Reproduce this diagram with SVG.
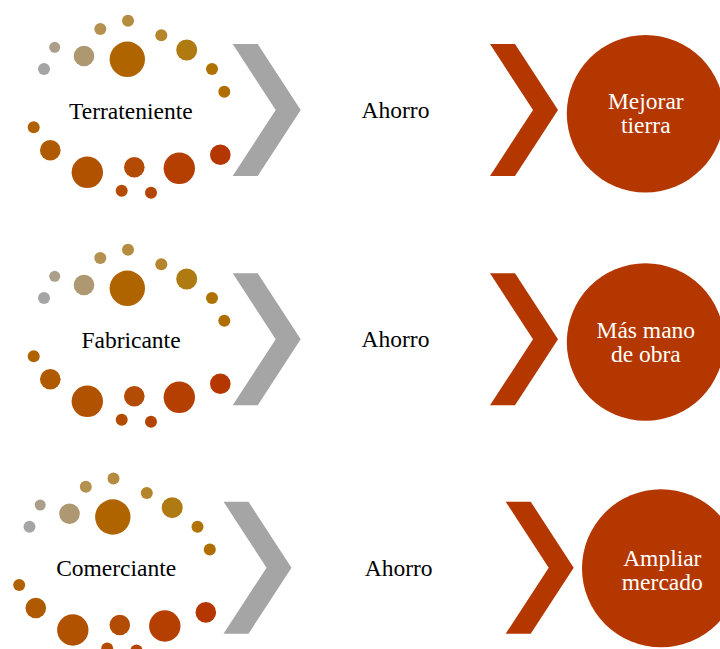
<svg xmlns="http://www.w3.org/2000/svg" xmlns:xlink="http://www.w3.org/1999/xlink" width="720" height="649" viewBox="0 0 720 649">
<style>
text{font-family:'Liberation Serif',serif;font-size:23.5px;text-anchor:middle}
.lbl{fill:#000}
.wt{fill:#fff}
.gch{fill:#a5a5a5}
.rch{fill:#b43700}
.res{fill:#b43700}
</style>
<defs>
<g id="dots">
<circle cx="44" cy="69" r="6" fill="#a5a5a5"/>
<circle cx="54.7" cy="47.3" r="5.5" fill="#ab9f8c"/>
<circle cx="84" cy="56" r="10.3" fill="#ae9871"/>
<circle cx="100.3" cy="29" r="6" fill="#b4914f"/>
<circle cx="128" cy="20.7" r="6" fill="#b58b40"/>
<circle cx="127.3" cy="59.3" r="17.7" fill="#b06400"/>
<circle cx="161.3" cy="35.3" r="6" fill="#b5852b"/>
<circle cx="186.7" cy="50" r="10.5" fill="#b07a12"/>
<circle cx="212" cy="69" r="6" fill="#b07200"/>
<circle cx="224.3" cy="91.7" r="6" fill="#b06d00"/>
<circle cx="33.7" cy="127.3" r="6" fill="#b06200"/>
<circle cx="50.3" cy="150.3" r="10.3" fill="#b05a00"/>
<circle cx="87.3" cy="172.3" r="15.7" fill="#b05200"/>
<circle cx="121.7" cy="190.7" r="6" fill="#b34c00"/>
<circle cx="134.3" cy="167.3" r="10.3" fill="#b44b04"/>
<circle cx="151" cy="192.7" r="6" fill="#b44500"/>
<circle cx="179.3" cy="168.3" r="15.7" fill="#b43f00"/>
<circle cx="220.3" cy="154.7" r="10.3" fill="#b43700"/>
</g>
<polygon id="chev" points="0,0 25,0 68,66 25,132 0,132 43,66"/>
</defs>

<g id="connectors">
<use xlink:href="#chev" class="gch" x="232.7" y="44"/>
<use xlink:href="#chev" class="rch" x="490" y="44"/>
<use xlink:href="#chev" class="gch" x="232.7" y="273.3"/>
<use xlink:href="#chev" class="rch" x="490" y="273.3"/>
<use xlink:href="#chev" class="gch" x="223.5" y="501.7"/>
<use xlink:href="#chev" class="rch" x="505.7" y="501.7"/>
</g>

<g id="terrateniente">
<use xlink:href="#dots"/>
<text class="lbl" x="130.8" y="119">Terrateniente</text>
</g>
<g id="ahorro1"><text class="lbl" x="395.5" y="118">Ahorro</text></g>
<g id="mejorar-tierra">
<circle class="res" cx="645.5" cy="113.7" r="78.7"/>
<text class="wt" x="645.8" y="109">Mejorar</text>
<text class="wt" x="645.8" y="132.5">tierra</text>
</g>

<g id="fabricante">
<use xlink:href="#dots" y="229"/>
<text class="lbl" x="131" y="348.3">Fabricante</text>
</g>
<g id="ahorro2"><text class="lbl" x="395.5" y="346.7">Ahorro</text></g>
<g id="mas-mano-de-obra">
<circle class="res" cx="645.5" cy="342" r="78.7"/>
<text class="wt" x="645.8" y="337.7">Más mano</text>
<text class="wt" x="645.8" y="361.5">de obra</text>
</g>

<g id="comerciante">
<use xlink:href="#dots" x="-14.5" y="457.7"/>
<text class="lbl" x="116.2" y="576">Comerciante</text>
</g>
<g id="ahorro3"><text class="lbl" x="398.7" y="576">Ahorro</text></g>
<g id="ampliar-mercado">
<circle class="res" cx="661" cy="568.3" r="79"/>
<text class="wt" x="662.3" y="566">Ampliar</text>
<text class="wt" x="662.3" y="590">mercado</text>
</g>
</svg>
